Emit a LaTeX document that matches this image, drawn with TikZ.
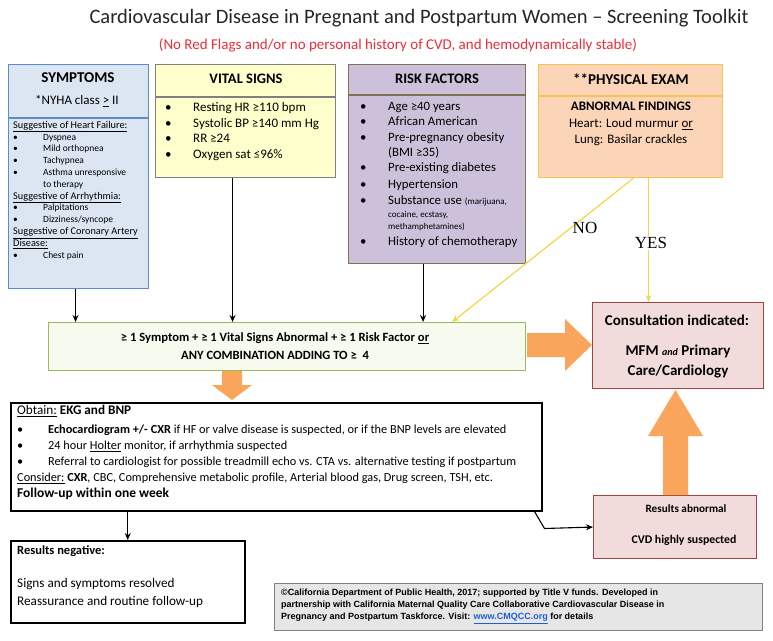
\documentclass[tikz,border=0pt]{standalone}
\usepackage{fontspec}
\setmainfont{Carlito}
\newfontfamily\serifb{Liberation Serif}
\newfontfamily\arialf{Liberation Sans}
\usetikzlibrary{calc,arrows.meta}
\definecolor{symfill}{HTML}{DCE6F2}
\definecolor{symline}{HTML}{5B8BC9}
\definecolor{vitfill}{HTML}{FFFFCC}
\definecolor{vitline}{HTML}{808080}
\definecolor{riskfill}{HTML}{CCC0DA}
\definecolor{riskline}{HTML}{7F7252}
\definecolor{physfill}{HTML}{FCD5B8}
\definecolor{physline}{HTML}{F5C350}
\definecolor{critfill}{HTML}{F7FAEE}
\definecolor{critline}{HTML}{9BBB59}
\definecolor{consfill}{HTML}{F2DCDB}
\definecolor{consline}{HTML}{A3423F}
\definecolor{orng}{HTML}{F9A55B}
\definecolor{yel}{HTML}{F2D648}
\definecolor{footfill}{HTML}{E6E6E6}
\definecolor{redt}{HTML}{E8303A}
\definecolor{linkb}{HTML}{1F5FD0}
\definecolor{titlec}{HTML}{262626}
\newcommand\bl[1][30pt]{\makebox[#1][l]{\textbullet}}
\newcommand\fs[2]{\fontsize{#1}{#2}\selectfont}
\begin{document}
\begin{tikzpicture}[x=1pt,y=-1pt,
  boxbase/.style={anchor=north west, inner sep=0pt, line width=1.1pt},
  txt/.style={inner sep=0pt, align=left, anchor=north west},
  arr/.style={-{Stealth[length=7pt,width=6pt]}, line width=1.1pt, black},
  yarr/.style={-{Stealth[length=7pt,width=6pt]}, line width=1.2pt, yel},
  orangefill/.style={fill=orng}]
\useasboundingbox[fill=white] (0,0) rectangle (773,640);

% title
\node[inner sep=0pt, text=titlec] (title) at (419,18) {\fs{20.5}{24}Cardiovascular Disease in Pregnant and Postpartum Women -- Screening Toolkit};
\node[inner sep=0pt, text=redt] (subtitle) at (398,45) {\fs{15}{16}(No Red Flags and/or no personal history of CVD, and hemodynamically stable)};

% boxes
\node[boxbase, draw=symline, fill=symfill, minimum width=140pt, minimum height=224pt] (sym) at (8,64) {};
\draw[symline, line width=1.1pt] ([yshift=-54pt]sym.north west) -- ([yshift=-54pt]sym.north east);
\node[boxbase, draw=vitline, fill=vitfill, minimum width=180pt, minimum height=113pt] (vit) at (155,64) {};
\draw[vitline, line width=1.1pt] ([yshift=-33pt]vit.north west) -- ([yshift=-33pt]vit.north east);
\node[boxbase, draw=riskline, fill=riskfill, minimum width=177pt, minimum height=199pt] (risk) at (348,64) {};
\draw[riskline, line width=1.1pt] ([yshift=-31pt]risk.north west) -- ([yshift=-31pt]risk.north east);
\node[boxbase, draw=physline, fill=physfill, minimum width=184pt, minimum height=113pt] (phys) at (538,64) {};
\draw[physline, line width=1.1pt] ([yshift=-32pt]phys.north west) -- ([yshift=-32pt]phys.north east);

% headers
\node[inner sep=0pt] (symh) at (78,78) {\fs{15}{17}\bfseries SYMPTOMS};
\node[inner sep=0pt] (symh2) at (77,101) {\fs{13}{15}*NYHA class \underline{>}~II};
\node[inner sep=0pt] (vith) at (246,79) {\fs{14.5}{16}\bfseries VITAL SIGNS};
\node[inner sep=0pt] (riskh) at (437,79) {\fs{14.5}{16}\bfseries RISK FACTORS};
\node[inner sep=0pt] (physh) at (631,79) {\fs{15}{17}\bfseries **PHYSICAL EXAM};

% symptom list
\node[txt, font=\fs{9.5}{11.8}] (symlist) at (13,121) {%
{\fs{10.3}{11.8}\underline{Suggestive of Heart Failure:}}\\
\bl Dyspnea\\
\bl Mild orthopnea\\
\bl Tachypnea\\
\bl Asthma unresponsive\\
\hspace*{30pt}to therapy\\
{\fs{10.3}{11.8}\underline{Suggestive of Arrhythmia:}}\\
\bl Palpitations\\
\bl Dizziness/syncope\\
{\fs{10.3}{11.8}\underline{Suggestive of Coronary Artery}}\\
{\fs{10.3}{11.8}\underline{Disease:}}\\
\bl Chest pain};

% vital list
\node[txt, font=\fs{13}{15.8}] (vitlist) at (165,102) {%
\bl[28pt]Resting HR ≥110 bpm\\
\bl[28pt]Systolic BP ≥140 mm Hg\\
\bl[28pt]RR ≥24\\
\bl[28pt]Oxygen sat ≤96\%};

% risk list
\node[txt, font=\fs{12.8}{15.3}] (risklist) at (360,102) {%
\bl[28pt]Age ≥40 years\\
\bl[28pt]African American\\
\bl[28pt]Pre-pregnancy obesity\\
\hspace*{28pt}(BMI ≥35)\\
\bl[28pt]Pre-existing diabetes\\[1.7pt]
\bl[28pt]Hypertension\\[0.7pt]
\bl[28pt]Substance use {\fs{9}{10}(marijuana,}\\[-2.3pt]
\hspace*{28pt}{\fs{9}{10}cocaine, ecstasy,}\\[-3.3pt]
\hspace*{28pt}{\fs{9}{10}methamphetamines)}\\[0.7pt]
\bl[28pt]History of chemotherapy};

% physical exam body
\node[inner sep=0pt, align=center, anchor=north, font=\fs{13}{16.5}] (physbody) at (631,102) {%
\textbf{ABNORMAL FINDINGS}\\Heart: Loud murmur \underline{or}\\Lung: Basilar crackles};

% criteria
\node[boxbase, draw=critline, fill=critfill, minimum width=477pt, minimum height=48pt] (crit) at (48,322) {};
\node[inner sep=0pt, align=center, font=\fs{12.6}{18}\bfseries] (crittext) at ([xshift=-12pt]crit.center) {%
≥ 1 Symptom + ≥ 1 Vital Signs Abnormal + ≥ 1 Risk Factor \underline{or}\\ANY COMBINATION ADDING TO ≥~~4};

% consultation
\node[boxbase, draw=consline, fill=consfill, minimum width=171pt, minimum height=86pt] (cons) at (592,302) {};
\node[inner sep=0pt] (consh) at (677,320) {\fs{15}{17}\bfseries Consultation indicated:};
\node[inner sep=0pt, align=center, font=\fs{15}{20}\bfseries] (consb) at (678,362) {%
MFM {\itshape\fs{10}{11}and} Primary\\Care/Cardiology};

% obtain box
\node[boxbase, draw=black, line width=1.5pt, fill=white, minimum width=531pt, minimum height=108pt] (obtain) at (10,402) {};
\node[txt, font=\fs{12.3}{16.2}] (obtaintext) at (17,405) {%
{\fs{13.2}{16}\underline{Obtain:} \textbf{EKG and BNP}}\\[2.5pt]
\bl[31pt]\textbf{Echocardiogram +/- CXR} if HF or valve disease is suspected, or if the BNP levels are elevated\\
\bl[31pt]24 hour \underline{Holter} monitor, if arrhythmia suspected\\
\bl[31pt]Referral to cardiologist for possible treadmill echo vs. CTA vs. alternative testing if postpartum\\
\underline{Consider:} \textbf{CXR}, CBC, Comprehensive metabolic profile, Arterial blood gas, Drug screen, TSH, etc.\\
{\fs{13.5}{16}\bfseries Follow-up within one week}};

% results abnormal
\node[boxbase, draw=consline, fill=consfill, minimum width=163pt, minimum height=63pt] (abn) at (593,495) {};
\node[inner sep=0pt] (abnt1) at (686,509) {\fs{11.2}{13}\bfseries Results abnormal};
\node[inner sep=0pt] (abnt2) at (684,540) {\fs{11.8}{13}\bfseries CVD highly suspected};

% results negative
\node[boxbase, draw=black, line width=1.5pt, fill=white, minimum width=234pt, minimum height=82pt] (neg) at (10,540) {};
\node[txt] (negh) at (17,546) {\fs{12.5}{14}\bfseries Results negative:};
\node[txt, font=\fs{13.2}{18}] (negtext) at (17,578) {%
Signs and symptoms resolved\\
Reassurance and routine follow-up};

% footer
\node[boxbase, draw=vitline, line width=1pt, fill=footfill, minimum width=488pt, minimum height=47pt] (foot) at (274,583) {};
\node[txt, font=\arialf\bfseries\fs{9}{12}] (foottext) at (281,589) {%
©California Department of Public Health, 2017; supported by Title V funds. Developed in\\
partnership with California Maternal Quality Care Collaborative Cardiovascular Disease in\\
Pregnancy and Postpartum Taskforce. Visit: {\color{linkb}\underline{www.CMQCC.org}} for details};

% black connectors
\draw[arr] ([xshift=-3pt]sym.south) -- ([xshift=-3pt]sym.south |- crit.north);
\draw[arr] ([xshift=-13pt]vit.south) -- ([xshift=-13pt]vit.south |- crit.north);
\draw[arr] ([xshift=-14pt]risk.south) -- ([xshift=-14pt]risk.south |- crit.north);
\draw[arr] (neg.north |- obtain.south) -- (neg.north);
\draw[arr] ([xshift=-8pt]obtain.south east) -- ++(10,17) -- (abn.west);

% yellow connectors
\coordinate (ytip) at ([xshift=-74pt]crit.north east);
\draw[yarr] ([xshift=3pt]phys.south) -- (ytip);
\draw[yarr] ([xshift=18pt]phys.south) -- ([xshift=18pt]phys.south |- cons.north);
\node[inner sep=1pt] (nolab) at (585,228) {\serifb\fs{17}{18}NO};
\node[inner sep=1pt, fill=white] (yeslab) at (651,243) {\serifb\fs{17}{18}YES};

% orange block arrows
\fill[orangefill] (527,333) -- (565,333) -- (565,319) -- (592,345) -- (565,371) -- (565,357) -- (527,357) -- cycle;
\fill[orangefill] (222,371) -- (242,371) -- (242,385) -- (252,385) -- (232,400) -- (212,385) -- (222,385) -- cycle;
\fill[orangefill] (663,495) -- (688,495) -- (688,436) -- (703,436) -- (675.5,390) -- (648,436) -- (663,436) -- cycle;
\end{tikzpicture}
\end{document}
